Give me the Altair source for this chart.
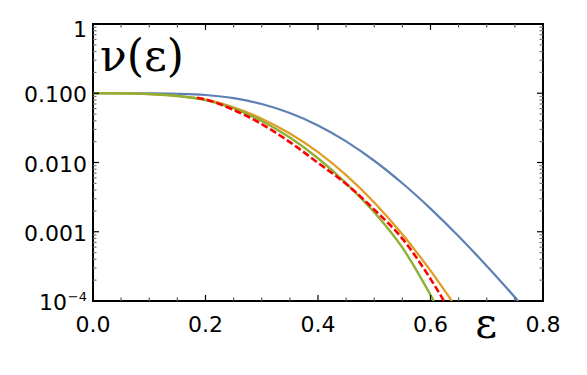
import altair as alt
import pandas as pd

# Plot area size in pixels
W, H = 450, 277

# nu(eps) curves, read on a log scale
eps_blue = [0.0, 0.05, 0.1, 0.15, 0.2, 0.25, 0.3, 0.35, 0.4, 0.45, 0.5, 0.55, 0.6, 0.65, 0.7, 0.756]
nu_blue = [0.100, 0.100, 0.0995, 0.0982, 0.0944, 0.0851, 0.0700, 0.0519, 0.0343, 0.0202,
           0.0106, 0.00501, 0.00216, 0.000861, 0.000320, 0.000100]

eps_orange = [0.0, 0.05, 0.1, 0.15, 0.2, 0.25, 0.3, 0.35, 0.4, 0.45, 0.5, 0.55, 0.6, 0.638]
nu_orange = [0.100, 0.0995, 0.0973, 0.0918, 0.0809, 0.0628, 0.0430, 0.0262, 0.0141, 0.00658,
             0.00265, 0.000918, 0.000274, 0.000100]

eps_green = [0.0, 0.05, 0.1, 0.15, 0.2, 0.25, 0.3, 0.35, 0.4, 0.45, 0.5, 0.55, 0.606]
nu_green = [0.100, 0.0995, 0.0973, 0.0912, 0.0794, 0.0603, 0.0398, 0.0229, 0.0115, 0.00501,
            0.00191, 0.000589, 0.000100]

eps_red = [0.185, 0.2, 0.25, 0.3, 0.35, 0.4, 0.45, 0.5, 0.55, 0.6, 0.624]
nu_red = [0.0861, 0.0813, 0.0575, 0.0359, 0.0197, 0.00989, 0.00490, 0.00209, 0.000794,
          0.000209, 0.000100]

# Axis ticks and their labels
x_major = [0.0, 0.2, 0.4, 0.6, 0.8]
x_labels = ["0.0", "0.2", "0.4", "0.6", "0.8"]
x_minor = [0.05, 0.1, 0.15, 0.25, 0.3, 0.35, 0.45, 0.5, 0.55, 0.65, 0.7, 0.75]
y_major = [1e-4, 1e-3, 1e-2, 1e-1, 1.0]
y_mid_ticks = [1e-3, 1e-2, 1e-1]
y_mid_labels = ["0.001", "0.010", "0.100"]
y_top_label = "1"
y_bottom_base = "10"
y_bottom_exp = "−4"
y_minor = [m * 10.0 ** k for k in (-4, -3, -2, -1) for m in range(2, 10)]

x_title = "ε"
y_title = "ν(ε)"

x_scale = alt.Scale(domain=[0, 0.8], nice=False, zero=False)
y_scale = alt.Scale(type="log", domain=[1e-4, 1], nice=False)

SANS = "DejaVu Sans"
SERIF = "DejaVu Serif"


def curve(eps, nu, color, width=2.2, dash=None):
    df = pd.DataFrame({"eps": eps, "nu": nu})
    mark_kw = dict(color=color, strokeWidth=width, interpolate="monotone", clip=True)
    if dash:
        mark_kw["strokeDash"] = dash
    return alt.Chart(df).mark_line(**mark_kw).encode(
        x=alt.X("eps:Q", scale=x_scale, axis=None),
        y=alt.Y("nu:Q", scale=y_scale, axis=None),
    )


def xticks(values, length, color):
    df = pd.DataFrame({"t": values})
    base = alt.Chart(df).mark_rule(color=color, strokeWidth=1.2)
    xenc = alt.X("t:Q", scale=x_scale, axis=None)
    bottom = base.encode(x=xenc, y=alt.value(H), y2=alt.value(H - length))
    top = base.encode(x=xenc, y=alt.value(0), y2=alt.value(length))
    return [bottom, top]


def yticks(values, length, color):
    df = pd.DataFrame({"t": values})
    base = alt.Chart(df).mark_rule(color=color, strokeWidth=1.2)
    yenc = alt.Y("t:Q", scale=y_scale, axis=None)
    left = base.encode(y=yenc, x=alt.value(0), x2=alt.value(length))
    right = base.encode(y=yenc, x=alt.value(W), x2=alt.value(W - length))
    return [left, right]


def ylabel(values, labels, size=22, dx=-6, dy=2):
    df = pd.DataFrame({"t": values, "lab": labels})
    return alt.Chart(df).mark_text(
        font=SANS, fontSize=size, color="black", align="right", baseline="middle", dx=dx, dy=dy
    ).encode(y=alt.Y("t:Q", scale=y_scale, axis=None), x=alt.value(0), text="lab:N")


# Tick labels placed through the same scales as the curves
x_label_layer = alt.Chart(pd.DataFrame({"t": x_major, "lab": x_labels})).mark_text(
    font=SANS, fontSize=22, color="black", align="center", baseline="top", dy=14
).encode(x=alt.X("t:Q", scale=x_scale, axis=None), y=alt.value(H), text="lab:N")

y_label_layers = [
    ylabel(y_mid_ticks, y_mid_labels),
    ylabel([y_major[-1]], [y_top_label], dy=6),
    ylabel([y_major[0]], [y_bottom_base], dx=-26, dy=2),
    ylabel([y_major[0]], [y_bottom_exp], size=13, dx=-6, dy=-4),
]

# Axis titles: nu(eps) inside the frame, eps beside the 0.8 label
y_title_layer = alt.Chart(pd.DataFrame({"lab": [y_title]})).mark_text(
    font=SERIF, fontSize=44, color="black", align="left", baseline="alphabetic"
).encode(x=alt.value(7), y=alt.value(47), text="lab:N")

x_title_layer = alt.Chart(pd.DataFrame({"lab": [x_title]})).mark_text(
    font=SERIF, fontSize=42, color="black", align="center", baseline="alphabetic"
).encode(x=alt.value(393), y=alt.value(H + 37), text="lab:N")

layers = [
    curve(eps_blue, nu_blue, "#5E81B5"),
    curve(eps_orange, nu_orange, "#E19C24"),
    curve(eps_green, nu_green, "#8FB032", width=2.4),
    curve(eps_red, nu_red, "#FF0000", width=2.6, dash=[7, 3]),
]
layers += xticks(x_major, 6, "black") + xticks(x_minor, 3.5, "#555555")
layers += yticks(y_major, 6, "black") + yticks(y_minor, 3.5, "#777777")
layers += [x_label_layer] + y_label_layers + [y_title_layer, x_title_layer]

chart = (
    alt.layer(*layers)
    .properties(
        width=W,
        height=H,
        autosize=alt.AutoSizeParams(type="none"),
        padding={"left": 93, "top": 24, "right": 44, "bottom": 74},
        background="white",
    )
    .configure_view(stroke="black", strokeWidth=2)
)

chart.save("out.html", embed_options={"renderer": "svg", "actions": False})
